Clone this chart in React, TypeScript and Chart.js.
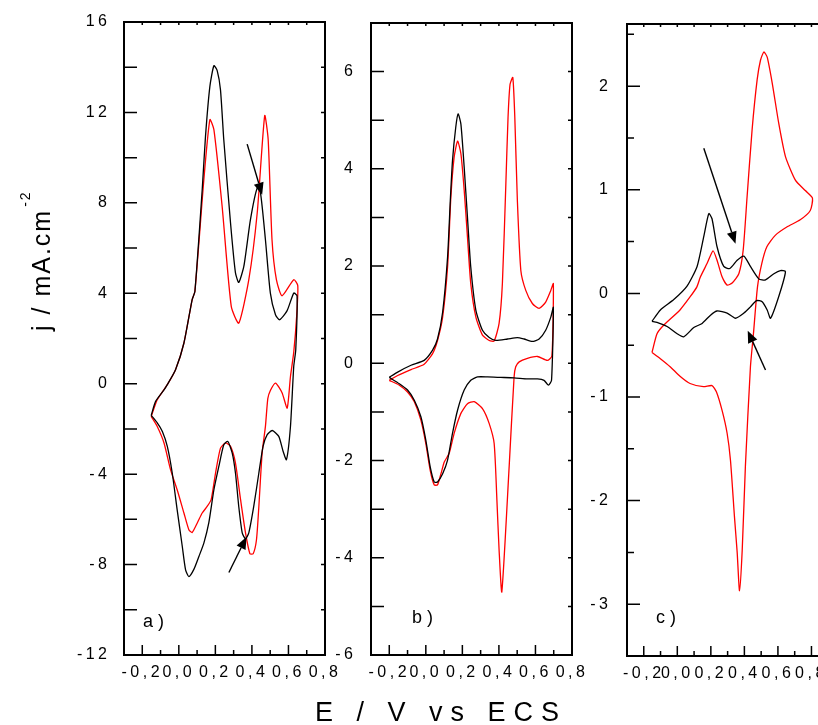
import React, { useEffect, useRef } from 'react';
import { Chart, registerables } from 'chart.js';

Chart.register(...registerables);

const FONT = '"Liberation Sans", Arial, Helvetica, sans-serif';
const PAGE_H = 725;

// ---- a) potential (V vs ECS) / current density (mA cm^-2) ----
const aBlackE = [-0.151, -0.127, -0.081, -0.063, -0.018, 0.028, 0.073, 0.088, 0.128, 0.146, 0.17, 0.192, 0.21, 0.228, 0.246, 0.283, 0.31, 0.328, 0.356, 0.392, 0.429, 0.447, 0.474, 0.501, 0.529, 0.552, 0.592, 0.629, 0.647, 0.64, 0.629, 0.611, 0.589, 0.571, 0.547, 0.511, 0.483, 0.461, 0.438, 0.41, 0.383, 0.365, 0.347, 0.328, 0.31, 0.292, 0.268, 0.246, 0.219, 0.192, 0.164, 0.137, 0.11, 0.083, 0.055, 0.037, 0.019, -0.009, -0.036, -0.063, -0.09, -0.118, -0.151];
const aBlackJ = [-1.4, -0.78, -0.27, -0.04, 0.62, 1.8, 3.72, 4.08, 8.58, 10.94, 13.15, 14.07, 13.85, 13.0, 10.8, 7.11, 4.9, 4.48, 5.2, 7.26, 8.66, 8.44, 6.37, 4.01, 3.05, 2.83, 3.22, 4.01, 3.89, 1.5, 0.77, -1.89, -3.36, -3.0, -2.33, -2.07, -2.26, -2.77, -3.95, -5.43, -6.6, -6.86, -6.6, -5.43, -3.95, -3.06, -2.55, -2.7, -3.66, -4.69, -6.16, -7.05, -7.64, -8.2, -8.53, -8.23, -7.2, -5.58, -3.95, -2.77, -2.11, -1.73, -1.4];
const aRedE = [-0.151, -0.118, -0.063, -0.018, 0.028, 0.073, 0.088, 0.137, 0.17, 0.192, 0.237, 0.287, 0.328, 0.383, 0.429, 0.47, 0.489, 0.51, 0.534, 0.565, 0.629, 0.651, 0.645, 0.629, 0.611, 0.593, 0.565, 0.529, 0.501, 0.487, 0.474, 0.456, 0.438, 0.425, 0.407, 0.389, 0.365, 0.338, 0.31, 0.283, 0.256, 0.228, 0.201, 0.177, 0.155, 0.128, 0.101, 0.073, 0.055, 0.028, -0.009, -0.045, -0.081, -0.118, -0.151];
const aRedJ = [-1.45, -0.71, -0.04, 0.62, 1.8, 3.72, 4.08, 9.03, 11.68, 11.24, 7.85, 3.42, 2.68, 4.6, 7.55, 11.86, 10.8, 6.37, 4.6, 3.89, 4.6, 4.34, 3.0, 1.4, 0.32, -1.08, -0.4, 0.03, -0.3, -0.66, -1.89, -3.06, -5.43, -6.9, -7.52, -7.52, -6.6, -5.13, -3.51, -2.77, -2.62, -2.85, -3.95, -5.13, -5.43, -5.72, -6.16, -6.58, -6.46, -5.72, -4.69, -3.81, -2.62, -1.89, -1.45];

// ---- b) ----
const bBlackE = [-0.2, -0.154, -0.081, -0.009, 0.037, 0.064, 0.092, 0.119, 0.134, 0.146, 0.164, 0.177, 0.192, 0.21, 0.228, 0.246, 0.274, 0.31, 0.347, 0.383, 0.447, 0.501, 0.538, 0.583, 0.62, 0.656, 0.684, 0.698, 0.688, 0.671, 0.647, 0.611, 0.556, 0.483, 0.41, 0.338, 0.283, 0.246, 0.21, 0.174, 0.146, 0.119, 0.092, 0.064, 0.046, 0.024, 0.0, -0.027, -0.063, -0.1, -0.145, -0.2];
const bBlackJ = [-0.29, -0.18, -0.04, 0.06, 0.27, 0.5, 1.05, 2.18, 3.35, 4.17, 4.86, 5.13, 4.92, 4.03, 3.0, 1.98, 1.09, 0.68, 0.53, 0.47, 0.5, 0.53, 0.5, 0.45, 0.5, 0.68, 0.95, 1.15, -0.35, -0.45, -0.35, -0.32, -0.32, -0.3, -0.29, -0.28, -0.28, -0.35, -0.55, -0.96, -1.44, -1.99, -2.27, -2.44, -2.44, -2.13, -1.58, -1.1, -0.76, -0.55, -0.42, -0.29];
const bRedE = [-0.2, -0.154, -0.081, -0.009, 0.037, 0.064, 0.092, 0.119, 0.137, 0.155, 0.174, 0.192, 0.21, 0.228, 0.246, 0.274, 0.31, 0.347, 0.374, 0.401, 0.419, 0.438, 0.45, 0.461, 0.476, 0.487, 0.501, 0.52, 0.547, 0.583, 0.62, 0.656, 0.684, 0.698, 0.69, 0.665, 0.611, 0.556, 0.511, 0.492, 0.483, 0.456, 0.416, 0.401, 0.389, 0.374, 0.347, 0.31, 0.265, 0.228, 0.192, 0.155, 0.128, 0.101, 0.083, 0.064, 0.046, 0.024, 0.0, -0.027, -0.063, -0.1, -0.145, -0.2];
const bRedJ = [-0.35, -0.25, -0.13, -0.02, 0.2, 0.47, 0.95, 1.98, 3.41, 4.24, 4.57, 4.31, 3.56, 2.59, 1.64, 0.95, 0.58, 0.47, 0.46, 0.82, 1.64, 3.69, 5.06, 5.74, 5.88, 5.06, 3.35, 1.91, 1.5, 1.23, 1.13, 1.26, 1.5, 1.64, 0.15, 0.06, 0.14, 0.1, 0.03, -0.07, -0.28, -2.13, -4.7, -3.84, -2.81, -1.65, -1.24, -0.93, -0.79, -0.83, -1.03, -1.44, -1.85, -2.03, -2.27, -2.5, -2.5, -2.2, -1.65, -1.17, -0.79, -0.59, -0.45, -0.35];

// ---- c) ----
const cBlackE = [-0.151, -0.101, -0.021, 0.058, 0.118, 0.158, 0.188, 0.207, 0.237, 0.277, 0.313, 0.357, 0.397, 0.436, 0.486, 0.526, 0.576, 0.615, 0.645, 0.605, 0.556, 0.536, 0.506, 0.472, 0.436, 0.397, 0.347, 0.297, 0.237, 0.198, 0.148, 0.098, 0.038, -0.001, -0.061, -0.121, -0.151];
const cBlackJ = [-0.27, -0.16, -0.06, 0.07, 0.26, 0.55, 0.77, 0.72, 0.45, 0.26, 0.24, 0.32, 0.36, 0.26, 0.14, 0.13, 0.19, 0.22, 0.21, -0.03, -0.24, -0.16, -0.08, -0.07, -0.13, -0.19, -0.24, -0.19, -0.17, -0.21, -0.29, -0.33, -0.42, -0.39, -0.32, -0.28, -0.27];
const cRedE = [-0.151, -0.121, -0.083, 0.016, 0.078, 0.116, 0.138, 0.178, 0.213, 0.237, 0.267, 0.297, 0.327, 0.367, 0.393, 0.416, 0.446, 0.476, 0.496, 0.516, 0.536, 0.566, 0.605, 0.645, 0.705, 0.765, 0.806, 0.793, 0.733, 0.653, 0.584, 0.534, 0.504, 0.478, 0.454, 0.436, 0.406, 0.387, 0.371, 0.357, 0.341, 0.317, 0.297, 0.267, 0.233, 0.207, 0.156, 0.076, 0.016, -0.041, -0.101, -0.151];
const cRedJ = [-0.57, -0.39, -0.31, -0.16, -0.03, 0.06, 0.16, 0.29, 0.41, 0.32, 0.16, 0.08, 0.1, 0.19, 0.42, 0.93, 1.58, 2.06, 2.25, 2.33, 2.28, 2.03, 1.64, 1.32, 1.09, 0.99, 0.92, 0.8, 0.71, 0.64, 0.56, 0.45, 0.29, 0.06, -0.39, -0.71, -1.67, -2.48, -2.87, -2.5, -2.16, -1.61, -1.35, -1.13, -0.95, -0.89, -0.9, -0.87, -0.8, -0.71, -0.63, -0.57];

// arrows: [E, j] of tail and head
const aArrowTails = [[0.374, 10.6], [0.274, -8.35]];
const aArrowHeads = [[0.456, 8.36], [0.37, -6.78]];
const cArrowTails = [[0.158, 1.4], [0.526, -0.74]];
const cArrowHeads = [[0.347, 0.48], [0.42, -0.36]];

// tick labels
const xTickValues = [-0.2, 0, 0.2, 0.4, 0.6, 0.8];
const aYTicks = [-12, -8, -4, 0, 4, 8, 12, 16];
const bYTicks = [-6, -4, -2, 0, 2, 4, 6];
const cYTicks = [-3, -2, -1, 0, 1, 2];

const BLACK = '#000000';
const RED = '#ff0000';

type Curve = { e: number[]; j: number[]; color: string };
type PanelSpec = {
  id: string;
  canvasLeft: number;
  canvasWidth: number;
  area: { left: number; right: number; top: number; bottom: number };
  xRange: [number, number];
  yRange: [number, number];
  yTicks: number[];
  yMinorStep: number;
  yMajorLen: number;
  yMinorLen: number;
  yLabelPad: number;
  curves: Curve[];
  tails: number[][];
  heads: number[][];
};

const panels: PanelSpec[] = [
  {
    id: 'a', canvasLeft: 0, canvasWidth: 340,
    area: { left: 124, right: 325, top: 22, bottom: 655 },
    xRange: [-0.3, 0.8], yRange: [-12, 16], yTicks: aYTicks,
    yMinorStep: 2, yMajorLen: 13, yMinorLen: 13, yLabelPad: 13.5,
    curves: [
      { e: aBlackE, j: aBlackJ, color: BLACK },
      { e: aRedE, j: aRedJ, color: RED },
    ],
    tails: aArrowTails, heads: aArrowHeads,
  },
  {
    id: 'b', canvasLeft: 320, canvasWidth: 265,
    area: { left: 371, right: 572, top: 23, bottom: 655 },
    xRange: [-0.3, 0.8], yRange: [-6, 7], yTicks: bYTicks,
    yMinorStep: 1, yMajorLen: 13, yMinorLen: 13, yLabelPad: 14.5,
    curves: [
      { e: bBlackE, j: bBlackJ, color: BLACK },
      { e: bRedE, j: bRedJ, color: RED },
    ],
    tails: [], heads: [],
  },
  {
    id: 'c', canvasLeft: 570, canvasWidth: 290,
    area: { left: 627, right: 845, top: 24, bottom: 656 },
    xRange: [-0.3, 1.0], yRange: [-3.5, 2.6], yTicks: cYTicks,
    yMinorStep: 0.5, yMajorLen: 13, yMinorLen: 7, yLabelPad: 15.5,
    curves: [
      { e: cBlackE, j: cBlackJ, color: BLACK },
      { e: cRedE, j: cRedJ, color: RED },
    ],
    tails: cArrowTails, heads: cArrowHeads,
  },
];

const near = (a: number, b: number) => Math.abs(a - b) < 1e-6;
const fmtE = (v: number) => (near(v, 0) ? '0,0' : v.toFixed(1).replace('.', ','));

// Boxed frame with inward ticks on all four sides, plus the annotation arrows.
const framePlugin = {
  id: 'cvFrame',
  beforeDraw(chart: any) {
    chart.ctx.letterSpacing = '3.5px';
  },
  afterDraw(chart: any, _args: any, opts: any) {
    const { ctx, chartArea: ca } = chart;
    const xs = chart.scales.x;
    const ys = chart.scales.y;
    ctx.save();
    ctx.letterSpacing = '0px';
    ctx.strokeStyle = '#000';
    ctx.lineWidth = 1.5;
    ctx.beginPath();
    const [xmin, xmax] = opts.xRange;
    for (let k = 0; ; k++) {
      const v = xmin + k * 0.1;
      if (v > xmax + 1e-9) break;
      const px = xs.getPixelForValue(v);
      const major = opts.xMajor.some((m: number) => near(m, v));
      ctx.moveTo(px, ca.bottom);
      ctx.lineTo(px, ca.bottom - (major ? 10 : 5));
      ctx.moveTo(px, ca.top);
      ctx.lineTo(px, ca.top + 3);
    }
    const [ymin, ymax] = opts.yRange;
    for (let k = 0; ; k++) {
      const v = ymin + k * opts.yMinorStep;
      if (v > ymax + 1e-9) break;
      const py = ys.getPixelForValue(v);
      const major = opts.yMajor.some((m: number) => near(m, v));
      ctx.moveTo(ca.left, py);
      ctx.lineTo(ca.left + (major ? opts.yMajorLen : opts.yMinorLen), py);
      ctx.moveTo(ca.right, py);
      ctx.lineTo(ca.right - 4, py);
    }
    ctx.stroke();

    ctx.lineWidth = 2;
    ctx.strokeRect(ca.left, ca.top, ca.right - ca.left, ca.bottom - ca.top);

    ctx.fillStyle = '#000';
    ctx.lineWidth = 1.4;
    const tails = opts.tails || [];
    const heads = opts.heads || [];
    for (let i = 0; i < tails.length; i++) {
      const x0 = xs.getPixelForValue(tails[i][0]);
      const y0 = ys.getPixelForValue(tails[i][1]);
      const x1 = xs.getPixelForValue(heads[i][0]);
      const y1 = ys.getPixelForValue(heads[i][1]);
      const ang = Math.atan2(y1 - y0, x1 - x0);
      const c = Math.cos(ang);
      const s = Math.sin(ang);
      const len = 12;
      const half = 5;
      const bx = x1 - len * c;
      const by = y1 - len * s;
      ctx.beginPath();
      ctx.moveTo(x0, y0);
      ctx.lineTo(bx, by);
      ctx.stroke();
      ctx.beginPath();
      ctx.moveTo(x1, y1);
      ctx.lineTo(bx - half * s, by + half * c);
      ctx.lineTo(bx + half * s, by - half * c);
      ctx.closePath();
      ctx.fill();
    }
    ctx.restore();
  },
};

function CvPanel({ spec }: { spec: PanelSpec }) {
  const ref = useRef<HTMLCanvasElement>(null);

  useEffect(() => {
    const canvas = ref.current;
    if (!canvas) return;
    const { area, canvasLeft, canvasWidth } = spec;
    const chart = new Chart(canvas, {
      type: 'scatter',
      data: {
        datasets: spec.curves.map((cv) => ({
          data: cv.e.map((e, i) => ({ x: e, y: cv.j[i] })),
          showLine: true,
          borderColor: cv.color,
          backgroundColor: cv.color,
          borderWidth: 1.3,
          pointRadius: 0,
          tension: 0.2,
          fill: false,
        })),
      },
      options: {
        responsive: false,
        animation: false,
        events: [],
        devicePixelRatio: 1,
        layout: {
          padding: {
            left: 0,
            top: area.top,
            right: canvasWidth - (area.right - canvasLeft),
            bottom: 0,
          },
        },
        plugins: {
          legend: { display: false },
          tooltip: { enabled: false },
          cvFrame: {
            xRange: spec.xRange,
            yRange: spec.yRange,
            xMajor: xTickValues,
            yMajor: spec.yTicks,
            yMinorStep: spec.yMinorStep,
            yMajorLen: spec.yMajorLen,
            yMinorLen: spec.yMinorLen,
            tails: spec.tails,
            heads: spec.heads,
          },
        } as any,
        scales: {
          x: {
            type: 'linear',
            position: 'bottom',
            min: spec.xRange[0],
            max: spec.xRange[1],
            afterBuildTicks: (s: any) => {
              s.ticks = xTickValues.map((v) => ({ value: v }));
            },
            afterFit: (s: any) => {
              s.height = PAGE_H - area.bottom;
              s.paddingLeft = 0;
              s.paddingRight = 0;
            },
            grid: { display: false, drawTicks: false },
            border: { display: false },
            ticks: {
              color: '#000',
              font: { family: FONT, size: 16 },
              padding: 8,
              maxRotation: 0,
              minRotation: 0,
              autoSkip: false,
              callback: (v: any) => fmtE(Number(v)),
            },
          },
          y: {
            type: 'linear',
            position: 'left',
            min: spec.yRange[0],
            max: spec.yRange[1],
            afterBuildTicks: (s: any) => {
              s.ticks = spec.yTicks.map((v) => ({ value: v }));
            },
            afterFit: (s: any) => {
              s.width = area.left - canvasLeft;
              s.paddingTop = 0;
              s.paddingBottom = 0;
            },
            grid: { display: false, drawTicks: false },
            border: { display: false },
            ticks: {
              color: '#000',
              font: { family: FONT, size: 16 },
              padding: spec.yLabelPad,
              autoSkip: false,
              callback: (v: any) => String(v),
            },
          },
        },
      } as any,
      plugins: [framePlugin as any],
    });
    return () => chart.destroy();
  }, [spec]);

  return (
    <canvas
      ref={ref}
      width={spec.canvasWidth}
      height={PAGE_H}
      style={{
        position: 'absolute',
        left: spec.canvasLeft,
        top: 0,
        width: spec.canvasWidth,
        height: PAGE_H,
      }}
    />
  );
}

const tagStyle: React.CSSProperties = {
  position: 'absolute',
  font: `18px ${FONT}`,
  lineHeight: '18px',
  letterSpacing: '5px',
  whiteSpace: 'nowrap',
  color: '#000',
};

export default function App() {
  return (
    <div
      style={{
        position: 'absolute',
        left: 0,
        top: 0,
        width: 818,
        height: PAGE_H,
        overflow: 'hidden',
        background: '#ffffff',
      }}
    >
      {panels.map((p) => (
        <CvPanel key={p.id} spec={p} />
      ))}
      <div style={{ ...tagStyle, left: 143, top: 612 }}>a)</div>
      <div style={{ ...tagStyle, left: 412, top: 608 }}>b)</div>
      <div style={{ ...tagStyle, left: 656, top: 608 }}>c)</div>
      <div
        style={{
          position: 'absolute',
          left: 29,
          top: 331,
          transformOrigin: 'left top',
          transform: 'rotate(-90deg)',
          font: `25px ${FONT}`,
          lineHeight: '25px',
          letterSpacing: '2px',
          whiteSpace: 'nowrap',
          color: '#000',
        }}
      >
        j / mA.cm
        <span style={{ position: 'relative', top: -20, fontSize: 14, marginLeft: 2 }}>-2</span>
      </div>
      <div
        style={{
          position: 'absolute',
          left: 315,
          top: 699,
          font: `27px ${FONT}`,
          lineHeight: '27px',
          letterSpacing: '8px',
          whiteSpace: 'pre',
          color: '#000',
        }}
      >
        E / V vs ECS
      </div>
    </div>
  );
}
